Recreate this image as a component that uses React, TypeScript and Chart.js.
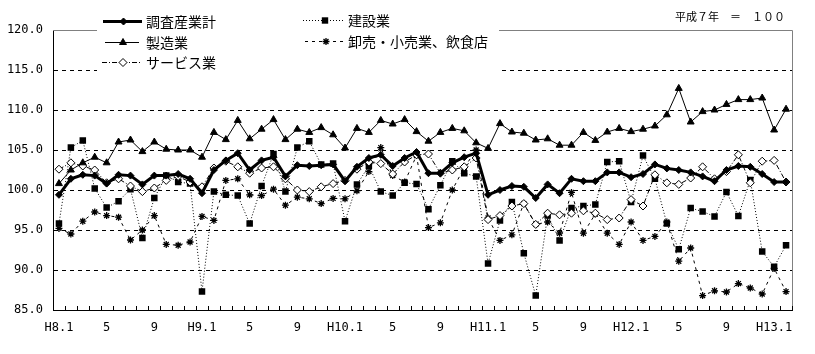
import React, { useEffect, useRef } from "react";
import { Chart, registerables } from "chart.js";

Chart.register(...registerables);

// 62 months: H8.1 .. H13.2
const categories: string[] = [];
for (let i = 0; i < 62; i++) {
  categories.push(`H${8 + Math.floor(i / 12)}.${(i % 12) + 1}`);
}
const tickLabels = ["H8.1", "5", "9", "H9.1", "5", "9", "H10.1", "5", "9", "H11.1", "5", "9", "H12.1", "5", "9", "H13.1"];
const yTicks = [85, 90, 95, 100, 105, 110, 115, 120];

const total = [
  99.4, 101.4, 101.9, 101.8, 100.8, 101.9, 101.8, 100.7, 101.8, 101.8, 102.0, 101.4,
  99.6, 102.5, 103.7, 104.6, 102.5, 103.7, 104.1, 101.7, 103.1, 103.0, 103.1, 103.2,
  101.1, 102.9, 104.0, 104.4, 103.0, 104.0, 104.75, 102.1, 102.1, 103.4, 104.1, 104.6,
  99.4, 100.0, 100.5, 100.4, 99.0, 100.7, 99.6, 101.4, 101.1, 101.1, 102.2, 102.2,
  101.6, 102.0, 103.2, 102.7, 102.5, 102.2, 101.7, 101.1, 102.5, 103.0, 102.9, 102.0,
  101.0, 101.0,
];
const manufacturing = [
  100.8, 102.5, 103.4, 104.1, 103.4, 106.0, 106.25, 104.8, 106.0, 105.1, 105.0, 105.0,
  104.1, 107.2, 106.3, 108.7, 106.4, 107.6, 108.8, 106.3, 107.6, 107.2, 107.8, 106.9,
  105.25, 107.7, 107.2, 108.7, 108.25, 108.8, 107.3, 106.1, 107.2, 107.7, 107.4, 105.9,
  105.2, 108.3, 107.25, 107.1, 106.25, 106.4, 105.6, 105.6, 107.2, 106.2, 107.25, 107.7,
  107.3, 107.6, 108.0, 109.4, 112.7, 108.5, 109.8, 110.0, 110.7, 111.3, 111.3, 111.5,
  107.5, 110.1,
];
const services = [
  102.6, 103.4, 103.0, 102.5, 100.9, 101.4, 100.5, 99.8, 100.25, 101.2, 101.7, 101.0,
  100.4, 102.75, 103.6, 102.9, 102.1, 102.75, 102.9, 101.4, 100.0, 99.8, 100.4, 100.8,
  101.2, 102.6, 103.5, 103.3, 102.0, 103.5, 104.4, 104.5, 102.1, 102.5, 102.9, 104.0,
  96.3, 96.8, 98.0, 98.3, 95.7, 97.1, 96.9, 97.1, 97.4, 97.1, 96.3, 96.5,
  98.8, 98.0, 101.9, 100.9, 100.7, 101.5, 102.9, 101.4, 102.3, 104.4, 100.9, 103.6,
  103.7, 101.0,
];
const construction = [
  95.8, 105.3, 106.2, 100.2, 97.8, 98.6, 100.1, 94.0, 99.0, 101.8, 101.0, 100.8,
  87.3, 99.8, 99.4, 99.3, 95.8, 100.5, 104.5, 99.8, 105.3, 106.1, 103.2, 103.3,
  96.1, 100.7, 103.0, 99.8, 99.3, 100.9, 100.75, 97.6, 100.6, 103.6, 102.1, 101.7,
  90.8, 96.2, 98.5, 92.1, 86.8, 96.8, 93.7, 97.75, 98.0, 98.2, 103.5, 103.6,
  98.5, 104.3, 101.4, 95.8, 92.6, 97.75, 97.3, 96.7, 99.75, 96.75, 101.25, 92.3,
  90.4, 93.1,
];
const wholesale = [
  95.2, 94.5, 96.1, 97.25, 96.8, 96.6, 93.75, 95.0, 96.8, 93.2, 93.1, 93.5,
  96.7, 96.2, 101.2, 101.4, 99.4, 99.3, 100.1, 98.1, 99.1, 98.9, 98.3, 98.95,
  98.9, 99.9, 102.3, 105.3, 101.8, 101.0, 104.3, 95.3, 95.9, 100.0, 102.8, 105.0,
  96.5, 93.7, 94.4, 98.3, 95.7, 96.0, 94.6, 99.7, 94.6, 97.0, 94.6, 93.2,
  96.0, 93.7, 94.2, 96.0, 91.1, 92.75, 86.8, 87.4, 87.25, 88.3, 87.75, 87.0,
  90.2, 87.3,
];

const MONO = '"DejaVu Sans Mono", "Noto Sans CJK JP", monospace';
const JP = '"Noto Sans CJK JP", sans-serif';

type Marker = "diamond" | "triangle" | "square" | "star" | "openDiamond";

function drawMarker(ctx: CanvasRenderingContext2D, m: Marker, x: number, y: number) {
  ctx.save();
  ctx.setLineDash([]);
  ctx.lineWidth = 1;
  ctx.strokeStyle = "#000";
  ctx.fillStyle = "#000";
  ctx.beginPath();
  if (m === "diamond" || m === "openDiamond") {
    const r = m === "diamond" ? 3.5 : 4;
    ctx.moveTo(x, y - r);
    ctx.lineTo(x + r, y);
    ctx.lineTo(x, y + r);
    ctx.lineTo(x - r, y);
    ctx.closePath();
    ctx.fillStyle = m === "diamond" ? "#000" : "#fff";
    ctx.fill();
    ctx.stroke();
  } else if (m === "triangle") {
    const r = 4;
    ctx.moveTo(x, y - r);
    ctx.lineTo(x + r * 0.866, y + r / 2);
    ctx.lineTo(x - r * 0.866, y + r / 2);
    ctx.closePath();
    ctx.fill();
    ctx.stroke();
  } else if (m === "square") {
    const s = 3.2;
    ctx.rect(x - s, y - s, 2 * s, 2 * s);
    ctx.fill();
  } else {
    const r = 3.5;
    ctx.lineWidth = 1.3;
    for (let k = 0; k < 4; k++) {
      const a = (k * Math.PI) / 4;
      ctx.moveTo(x - Math.cos(a) * r, y - Math.sin(a) * r);
      ctx.lineTo(x + Math.cos(a) * r, y + Math.sin(a) * r);
    }
    ctx.stroke();
  }
  ctx.restore();
}

const legendItems: { label: string; x0: number; x1: number; y: number; width: number; dash: number[]; marker: Marker; tx: number }[] = [
  { label: "調査産業計", x0: 103, x1: 142, y: 21, width: 3, dash: [], marker: "diamond", tx: 146 },
  { label: "製造業", x0: 105, x1: 139, y: 42, width: 1, dash: [], marker: "triangle", tx: 146 },
  { label: "サービス業", x0: 102, x1: 142, y: 62, width: 1, dash: [5, 2, 1, 2], marker: "openDiamond", tx: 146 },
  { label: "建設業", x0: 303, x1: 345, y: 20, width: 1, dash: [1, 2], marker: "square", tx: 348 },
  { label: "卸売・小売業、飲食店", x0: 305, x1: 345, y: 41, width: 1, dash: [3, 4], marker: "star", tx: 348 },
];

const framePlugin = {
  id: "frame",
  beforeDatasetsDraw(chart: any) {
    const { ctx, chartArea: a, scales } = chart;
    ctx.save();
    ctx.setLineDash([]);
    ctx.lineWidth = 1;
    ctx.strokeStyle = "#808080";
    const top = Math.round(a.top) + 0.5;
    const right = Math.round(a.right) + 0.5;
    ctx.beginPath();
    ctx.moveTo(a.left, top);
    ctx.lineTo(right, top);
    ctx.lineTo(right, a.bottom);
    ctx.stroke();
    // inner tick marks at category boundaries
    const xs = scales.x;
    const step = xs.getPixelForValue(1) - xs.getPixelForValue(0);
    const start = xs.getPixelForValue(0) - step / 2;
    ctx.strokeStyle = "#000";
    ctx.beginPath();
    for (let i = 1; i <= categories.length; i++) {
      const x = Math.round(start + i * step) + 0.5;
      ctx.moveTo(x, a.bottom);
      ctx.lineTo(x, a.bottom - 4);
    }
    ctx.stroke();
    ctx.restore();
  },
  afterDraw(chart: any) {
    const { ctx } = chart;
    ctx.save();
    ctx.fillStyle = "#fff";
    ctx.fillRect(97, 4, 402, 67);
    for (const it of legendItems) {
      ctx.save();
      ctx.strokeStyle = "#000";
      ctx.lineWidth = it.width;
      ctx.setLineDash(it.dash);
      ctx.beginPath();
      ctx.moveTo(it.x0, it.y + 0.5);
      ctx.lineTo(it.x1, it.y + 0.5);
      ctx.stroke();
      ctx.restore();
      drawMarker(ctx, it.marker, (it.x0 + it.x1) / 2 + 1, it.y + 0.5);
      ctx.fillStyle = "#000";
      ctx.font = `14px ${JP}`;
      ctx.textBaseline = "middle";
      ctx.textAlign = "left";
      ctx.fillText(it.label, it.tx, it.y + 1);
    }
    ctx.font = `11px ${JP}`;
    ctx.textAlign = "right";
    ctx.textBaseline = "middle";
    ctx.fillText("平成７年　＝　１００", 785, 17);
    ctx.restore();
  },
};

export default function App() {
  const ref = useRef<HTMLCanvasElement | null>(null);
  useEffect(() => {
    if (!ref.current) return;
    const chart = new Chart(ref.current, {
      type: "line",
      data: {
        labels: categories,
        datasets: [
          {
            label: "調査産業計",
            data: total,
            borderColor: "#000",
            borderWidth: 3,
            pointStyle: "rectRot",
            pointRadius: 3.5,
            pointBackgroundColor: "#000",
            pointBorderColor: "#000",
            pointBorderWidth: 1,
            tension: 0,
          },
          {
            label: "製造業",
            data: manufacturing,
            borderColor: "#000",
            borderWidth: 1,
            pointStyle: "triangle",
            pointRadius: 4,
            pointBackgroundColor: "#000",
            pointBorderColor: "#000",
            pointBorderWidth: 1,
            tension: 0,
          },
          {
            label: "サービス業",
            data: services,
            borderColor: "#000",
            borderWidth: 1,
            borderDash: [5, 2, 1, 2],
            pointStyle: "rectRot",
            pointRadius: 4,
            pointBackgroundColor: "#fff",
            pointBorderColor: "#000",
            pointBorderWidth: 1,
            tension: 0,
          },
          {
            label: "卸売・小売業、飲食店",
            data: wholesale,
            borderColor: "#000",
            borderWidth: 1,
            borderDash: [3, 4],
            pointStyle: "star",
            pointRadius: 3.5,
            pointBackgroundColor: "#000",
            pointBorderColor: "#000",
            pointBorderWidth: 1.3,
            tension: 0,
          },
          {
            label: "建設業",
            data: construction,
            borderColor: "#000",
            borderWidth: 1,
            borderDash: [1, 2],
            pointStyle: "rect",
            pointRadius: 4.6,
            pointBackgroundColor: "#000",
            pointBorderColor: "#000",
            pointBorderWidth: 0,
            tension: 0,
          },
        ],
      },
      options: {
        animation: false,
        responsive: false,
        maintainAspectRatio: false,
        events: [],
        layout: { padding: { top: 30, right: 23, left: 0, bottom: 0 } },
        plugins: { legend: { display: false }, tooltip: { enabled: false } },
        scales: {
          x: {
            type: "category",
            offset: true,
            grid: { display: false, drawTicks: false },
            border: { display: true, color: "#000", width: 1 },
            ticks: {
              autoSkip: false,
              maxRotation: 0,
              minRotation: 0,
              padding: 11,
              color: "#000",
              font: { family: MONO, size: 12 },
              callback: (_v: any, i: number) => (i % 4 === 0 ? tickLabels[i / 4] : ""),
            },
            afterFit: (s: any) => {
              s.height = 44;
            },
          },
          y: {
            min: yTicks[0],
            max: yTicks[yTicks.length - 1],
            afterBuildTicks: (s: any) => {
              s.ticks = yTicks.map((v) => ({ value: v }));
            },
            ticks: {
              padding: 10,
              color: "#000",
              font: { family: MONO, size: 12 },
              callback: (v: any) => Number(v).toFixed(1),
            },
            grid: {
              drawTicks: false,
              lineWidth: 1,
              color: (c: any) =>
                c.tick && (c.tick.value === yTicks[0] || c.tick.value === yTicks[yTicks.length - 1])
                  ? "rgba(0,0,0,0)"
                  : "#000",
            },
            border: { display: true, color: "#000", width: 1, dash: [4, 4] },
            afterFit: (s: any) => {
              s.width = 53;
            },
          },
        },
      },
      plugins: [framePlugin],
    } as any);
    return () => chart.destroy();
  }, []);
  return (
    <div style={{ position: "fixed", left: 0, top: 0, width: 815, height: 354, background: "#fff" }}>
      <canvas ref={ref} width={815} height={354} style={{ width: 815, height: 354, display: "block" }} />
    </div>
  );
}
